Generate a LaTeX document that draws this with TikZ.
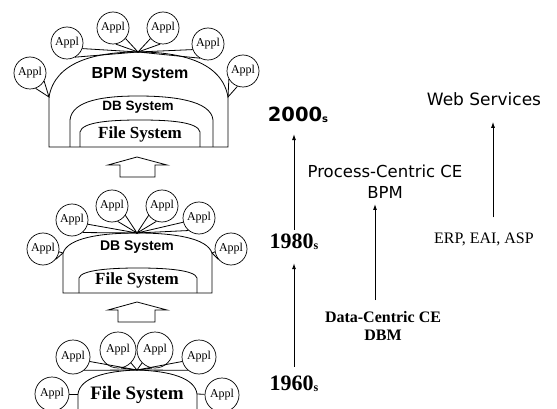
\documentclass[tikz,border=0pt]{standalone}
\usepackage{fontspec}
\setmainfont{Liberation Serif}
\newfontfamily\arialfont{Liberation Sans}
\newfontfamily\dejafont{DejaVu Sans}
\usepackage{tikz}
\usetikzlibrary{arrows.meta, positioning}

\begin{document}
\begin{tikzpicture}[x=1pt, y=-1pt,
            appl/.style={circle, draw, line width=0.7pt, minimum size=32pt, inner sep=0pt, font=\fontsize{12}{12}\selectfont},
            line/.style={line width=0.8pt},
            arr/.style={-{Latex[length=6pt, width=4pt]}, line width=1pt},
            sysname/.style={inner sep=0pt, font=\arialfont\bfseries\fontsize{15}{15}\selectfont},
            filename/.style={inner sep=0pt, font=\bfseries\fontsize{17}{17}\selectfont},
            year/.style={inner sep=1pt, font=\bfseries\fontsize{22}{22}\selectfont},
            label/.style={inner sep=1pt, align=center}
        ]
        \useasboundingbox (0,0) rectangle (557,409);

        % 2000s: BPM system
        \coordinate (tA) at (138,52);
        \coordinate (tL) at (49,97);
        \coordinate (tR) at (228,97);
        \draw[line] (49,147) -- (tL) .. controls (55,62) and (95,52) .. (tA)
            .. controls (181,52) and (222,62) .. (tR) -- (228,147) -- cycle;
        \draw[line] (70,147) -- (70,120) .. controls (72,100) and (105,96) .. (138,96)
            .. controls (171,96) and (211,100) .. (213,120) -- (213,147);
        \draw[line] (80,147) -- (80,132) .. controls (82,122) and (110,120) .. (140,120)
            .. controls (170,120) and (198,122) .. (200,132) -- (200,147);

        \node[appl] (t1) at (30,73) {Appl};
        \node[appl] (t2) at (67,43) {Appl};
        \node[appl] (t3) at (113,28) {Appl};
        \node[appl] (t4) at (163,28) {Appl};
        \node[appl] (t5) at (208,44) {Appl};
        \node[appl] (t6) at (243,71) {Appl};

        \draw[line] (t1.-70) -- (tL) -- (t1.-30);
        \draw[line] (t2.-60) -- (tA) -- (t2.-20);
        \draw[line] (t3.-80) -- (tA) -- (t3.-40);
        \draw[line] (t4.-100) -- (tA) -- (t4.-140);
        \draw[line] (t5.-120) -- (tA) -- (t5.-160);
        \draw[line] (t6.-110) -- (tR) -- (t6.-150);

        \node[sysname, font=\arialfont\bfseries\fontsize{16}{16}\selectfont] (bpmsys) at (140,75) {BPM System};
        \node[sysname, font=\arialfont\bfseries\fontsize{13.5}{13.5}\selectfont] (dbsys1) at (138,107) {DB System};
        \node[filename] (filesys1) at (140,134) {File System};

        % hollow arrow
        \draw[line] (120,177) -- (120,165) -- (108,165) -- (137,157) -- (167,165)
            -- (155,165) -- (155,177) -- cycle;

        % 1980s: DB system
        \coordinate (mA) at (137,233);
        \coordinate (mL) at (63,253);
        \coordinate (mR) at (212,253);
        \draw[line] (63,293) -- (mL) .. controls (68,238) and (100,233) .. (mA)
            .. controls (174,233) and (207,238) .. (mR) -- (212,293) -- cycle;
        \draw[line] (79,293) -- (79,278) .. controls (81,270) and (110,268) .. (138,268)
            .. controls (166,268) and (195,270) .. (197,278) -- (197,293);

        \node[appl] (m1) at (43,249) {Appl};
        \node[appl] (m2) at (72,220) {Appl};
        \node[appl] (m3) at (112,206) {Appl};
        \node[appl] (m4) at (162,206) {Appl};
        \node[appl] (m5) at (199,218) {Appl};
        \node[appl] (m6) at (231,249) {Appl};

        \draw[line] (m1.-40) -- (mL) -- (m1.-10);
        \draw[line] (m2.-50) -- (mA) -- (m2.-15);
        \draw[line] (m3.-70) -- (mA) -- (m3.-35);
        \draw[line] (m4.-110) -- (mA) -- (m4.-145);
        \draw[line] (m5.-130) -- (mA) -- (m5.-165);
        \draw[line] (m6.-140) -- (mR) -- (m6.-170);

        \node[sysname, font=\arialfont\bfseries\fontsize{14}{14}\selectfont] (dbsys2) at (137,247) {DB System};
        \node[filename] (filesys2) at (137,280) {File System};

        % hollow arrow
        \draw[line] (118,322) -- (118,310) -- (108,310) -- (137,302) -- (167,310)
            -- (155,310) -- (155,322) -- cycle;

        % 1960s: file system
        \coordinate (bA) at (137,370);
        \coordinate (bL) at (78,394);
        \coordinate (bR) at (197,394);
        \draw[line] (78,409) -- (bL) .. controls (80,378) and (105,371) .. (bA)
            .. controls (170,371) and (195,378) .. (bR) -- (197,409);

        \node[appl, minimum size=34pt] (b1) at (52,394) {Appl};
        \node[appl, minimum size=34pt] (b2) at (73,357) {Appl};
        \node[appl, minimum size=36pt] (b3) at (118,350) {Appl};
        \node[appl, minimum size=36pt] (b4) at (155,350) {Appl};
        \node[appl, minimum size=34pt] (b5) at (199,357) {Appl};
        \node[appl, minimum size=34pt] (b6) at (222,395) {Appl};

        \draw[line] (b1) -- (bL);
        \draw[line] (b6) -- (bR);
        \draw[line] (b2.-50) -- (bA) -- (b2.-15);
        \draw[line] (b3.-80) -- (bA) -- (b3.-45);
        \draw[line] (b4.-100) -- (bA) -- (b4.-135);
        \draw[line] (b5.-130) -- (bA) -- (b5.-165);

        \node[filename, font=\bfseries\fontsize{19}{19}\selectfont] (filesys3) at (137,395) {File System};

        % Timeline
        \node[year] (y1960) at (294,384) {1960\raisebox{-1pt}{\fontsize{12}{12}\selectfont s}};
        \node[year] (y1980) at (294,242) {1980\raisebox{-1pt}{\fontsize{12}{12}\selectfont s}};
        \node[year, font=\dejafont\bfseries\fontsize{19.5}{19.5}\selectfont] (y2000) at (298,115) {2000\raisebox{-1pt}{\fontsize{10}{10}\selectfont s}};

        \node[label, font=\bfseries\fontsize{16}{18}\selectfont] (dc) at (383,326) {Data-Centric CE\\DBM};
        \node[label, font=\dejafont\fontsize{16.5}{21}\selectfont] (pc) at (385,182) {Process-Centric CE\\BPM};
        \node[label, font=\fontsize{16}{16}\selectfont] (erp) at (484,239) {ERP, EAI, ASP};
        \node[label, font=\dejafont\fontsize{17}{17}\selectfont] (web) at (484,99) {Web Services};

        % Arrows
        \draw[arr, shorten <=8pt, shorten >=12pt] (y1960) -- (y1980);
        \draw[arr, shorten <=3pt, shorten >=10pt] (y1980.north) -- (y1980.north |- y2000.south);
        \draw[arr, shorten <=10pt, shorten >=4pt] ([xshift=-8pt]dc.north) -- ([xshift=-8pt]dc.north |- pc.south);
        \draw[arr, shorten <=14pt, shorten >=15pt] ([xshift=9pt]erp.north) -- ([xshift=9pt]erp.north |- web.south);

    \end{tikzpicture}
\end{document}
